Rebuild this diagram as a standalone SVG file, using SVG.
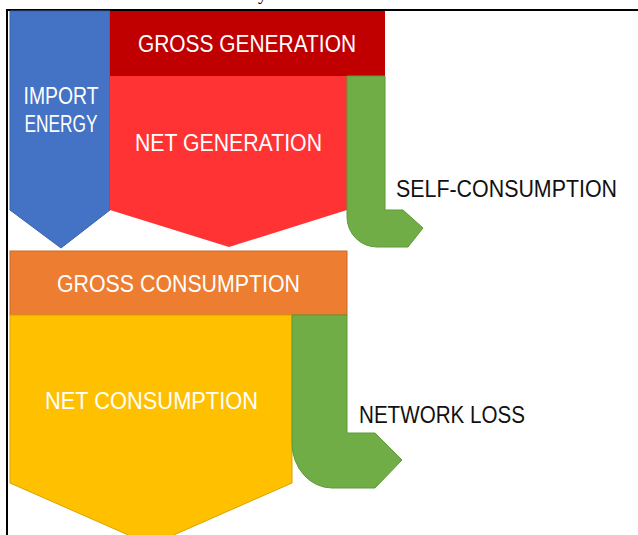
<svg xmlns="http://www.w3.org/2000/svg" width="638" height="535" viewBox="0 0 638 535">
  <style>
    .lbl { font-family: "Liberation Sans", Arial, sans-serif; font-size: 23px; }
    .w { fill: #ffffff; }
    .k { fill: #111111; }
    .frame { stroke: #000000; stroke-width: 2; fill: none; }
  </style>
  <rect width="638" height="535" fill="#ffffff"/>

  <!-- caption descender above the frame -->
  <text x="258" y="0" font-family="Liberation Serif, serif" font-size="18" fill="#000">y</text>

  <!-- frame -->
  <path class="frame" d="M7,535 V10 H638"/>

  <g id="import-energy">
    <path d="M10,11 H110 V210 L61,248 L10,210 Z" fill="#4472C4" stroke="#3A63AD" stroke-width="1"/>
    <text class="lbl w" x="61" y="104" text-anchor="middle" textLength="75" lengthAdjust="spacingAndGlyphs">IMPORT</text>
    <text class="lbl w" x="61" y="132" text-anchor="middle" textLength="73" lengthAdjust="spacingAndGlyphs">ENERGY</text>
  </g>

  <g id="gross-generation">
    <rect x="110" y="11" width="275" height="65" fill="#C00000"/>
    <text class="lbl w" x="247" y="52" text-anchor="middle" textLength="218" lengthAdjust="spacingAndGlyphs">GROSS GENERATION</text>
  </g>

  <g id="net-generation">
    <path d="M110,76 H347 V210 L229,247 L110,210 Z" fill="#FF3333"/>
    <text class="lbl w" x="228.5" y="151" text-anchor="middle" textLength="187" lengthAdjust="spacingAndGlyphs">NET GENERATION</text>
  </g>

  <g id="self-consumption">
    <path d="M347,76 H385 V210 H403 L423,228 L408,247 H377 A30,30 0 0 1 347,217 Z" fill="#70AD47" stroke="#5E9A38" stroke-width="1"/>
    <text class="lbl k" x="396" y="197" textLength="221" lengthAdjust="spacingAndGlyphs">SELF-CONSUMPTION</text>
  </g>

  <g id="gross-consumption">
    <rect x="10" y="251" width="337" height="64" fill="#ED7D31" stroke="#C9692A" stroke-width="1"/>
    <text class="lbl w" x="178.5" y="292" text-anchor="middle" textLength="243" lengthAdjust="spacingAndGlyphs">GROSS CONSUMPTION</text>
  </g>

  <g id="net-consumption">
    <path d="M10,315 H292 V483 L151,545 L10,483 Z" fill="#FFC000" stroke="#D9A300" stroke-width="1"/>
    <text class="lbl w" x="151.5" y="409" text-anchor="middle" textLength="213" lengthAdjust="spacingAndGlyphs">NET CONSUMPTION</text>
  </g>

  <g id="network-loss">
    <path d="M292,315 H347 V433 H375 L402,460 L375,488 H332 A40,45 0 0 1 292,443 Z" fill="#70AD47" stroke="#5E9A38" stroke-width="1"/>
    <text class="lbl k" x="359" y="423" textLength="166" lengthAdjust="spacingAndGlyphs">NETWORK LOSS</text>
  </g>

  <g id="connectors"></g>
</svg>
